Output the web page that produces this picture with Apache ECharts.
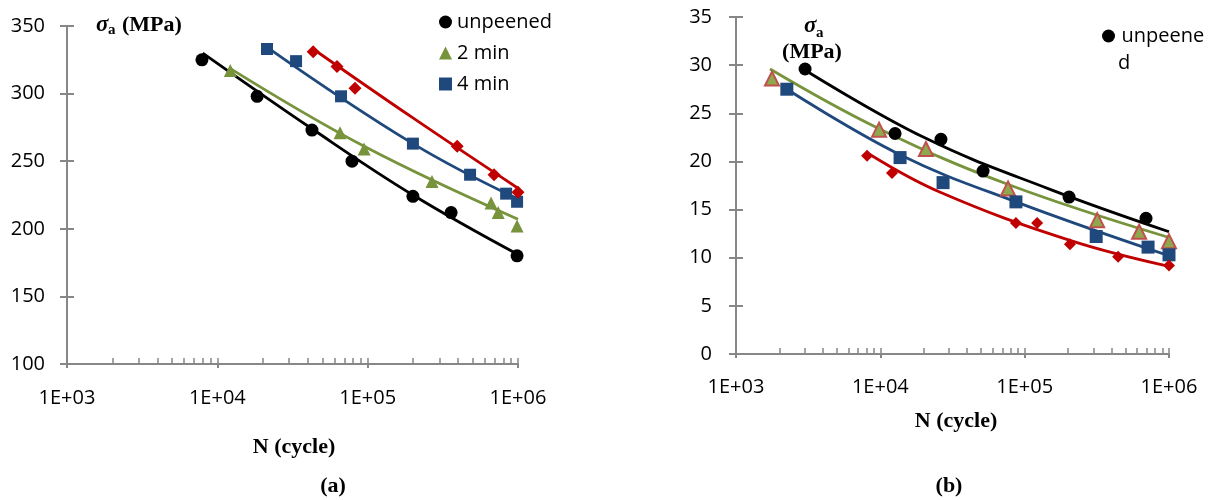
<!DOCTYPE html>
<html>
<head>
<meta charset="utf-8">
<title>S-N curves</title>
<script src="https://cdn.jsdelivr.net/npm/echarts@6/dist/echarts.min.js"></script>
<style>
  html, body { margin: 0; padding: 0; background: #fff; }
  #chart { width: 1215px; height: 500px; }
</style>
</head>
<body>
<div id="chart"></div>
<script>
// ---- Panel (a): stress amplitude (MPa) vs number of cycles ----
const aUnpeened = [[7900, 325], [18400, 298], [42600, 273], [78700, 250], [200000, 224], [359000, 212], [986000, 180]];
const a2min     = [[12200, 317], [65500, 271], [94700, 259], [268000, 235], [662000, 219], [738000, 212], [986000, 202]];
const a4min     = [[21400, 333], [33400, 324], [66500, 298], [200000, 263], [480000, 240], [834000, 226], [986000, 220]];
const a8min     = [[43400, 331], [62500, 320], [82400, 304], [394000, 261], [693000, 240], [1000000, 227]];
// power-law trend curves
const aUnpeenedFit = [[8000, 330], [42600, 274], [200000, 225], [1000000, 181]];
const a2minFit     = [[12000, 319], [94700, 261], [1000000, 207]];
const a4minFit     = [[21000, 335], [200000, 263], [1000000, 222]];
const a8minFit     = [[43400, 333], [200000, 282], [1000000, 230]];

// ---- Panel (b) ----
const bUnpeened = [[3010, 29.6], [12650, 22.9], [26300, 22.3], [51500, 19.0], [203000, 16.3], [693000, 14.1]];
const b2min     = [[1775, 28.6], [9800, 23.3], [20700, 21.3], [76700, 17.2], [318000, 13.9], [621000, 12.7], [1000000, 11.7]];
const b4min     = [[2250, 27.5], [13700, 20.4], [27200, 17.8], [87000, 15.8], [313000, 12.2], [716000, 11.1], [1000000, 10.3]];
const b8min     = [[8090, 20.6], [12050, 18.8], [87000, 13.6], [122000, 13.6], [206000, 11.4], [444000, 10.1], [1000000, 9.2]];
const bUnpeenedFit = [[3000, 29.5], [20000, 22.5], [150000, 17.1], [1000000, 12.7]];
const b2minFit     = [[1720, 29.6], [9800, 23.4], [77000, 17.6], [1000000, 12.1]];
const b4minFit     = [[2200, 27.6], [13700, 20.7], [87000, 15.8], [1000000, 10.2]];
const b8minFit     = [[8300, 20.8], [26000, 16.8], [206000, 11.8], [1000000, 9.1]];

// ---- axis ticks ----
const xMajorTicks = [1e3, 1e4, 1e5, 1e6];
const xMinorTicks = [2e3, 3e3, 4e3, 5e3, 6e3, 7e3, 8e3, 9e3,
                     2e4, 3e4, 4e4, 5e4, 6e4, 7e4, 8e4, 9e4,
                     2e5, 3e5, 4e5, 5e5, 6e5, 7e5, 8e5, 9e5];
const yTicksA = { min: 100, max: 350, interval: 50 };
const yTicksB = { min: 0, max: 35, interval: 5 };

const AXIS_GREY = '#878787';
const SANS = "'Open Sans', 'Noto Sans', sans-serif";
const SERIF = "'Liberation Serif', 'DejaVu Serif', serif";
const C_BLACK = '#000000', C_GREEN = '#77933C', C_BLUE = '#1F497D', C_RED = '#C00000';

const sciLabel = v => '1E+0' + Math.round(Math.log10(v));

function xAxes(gridIndex, labelMargin) {
  const base = { gridIndex, type: 'log', logBase: 10, min: 1e3, max: 1e6, position: 'bottom', splitLine: { show: false } };
  return [
    Object.assign({}, base, {
      axisLine: { show: true, onZero: false, lineStyle: { color: AXIS_GREY, width: 2 } },
      axisTick: { show: true, inside: false, length: 4, lineStyle: { color: AXIS_GREY, width: 2 } },
      axisLabel: { show: true, margin: labelMargin, fontSize: 20, fontFamily: SANS, color: '#000', formatter: sciLabel, customValues: xMajorTicks }
    }),
    Object.assign({}, base, {
      axisLine: { show: false, onZero: false },
      axisTick: { show: true, inside: true, length: 6, lineStyle: { color: AXIS_GREY, width: 1.5 }, customValues: xMajorTicks.concat(xMinorTicks) },
      axisLabel: { show: false }
    })
  ];
}

function yAxes(gridIndex, ticks, margin) {
  const base = { gridIndex, type: 'value', min: ticks.min, max: ticks.max, interval: ticks.interval, position: 'left', splitLine: { show: false } };
  return [
    Object.assign({}, base, {
      axisLine: { show: true, onZero: false, lineStyle: { color: AXIS_GREY, width: 2 } },
      axisTick: { show: true, inside: false, length: 7, lineStyle: { color: AXIS_GREY, width: 2 } },
      axisLabel: { show: true, margin, fontSize: 20, fontFamily: SANS, color: '#000' }
    }),
    Object.assign({}, base, {
      axisLine: { show: false, onZero: false },
      axisTick: { show: true, inside: true, length: 7, lineStyle: { color: AXIS_GREY, width: 2 } },
      axisLabel: { show: false }
    })
  ];
}

function fit(name, data, color, xi, yi) {
  return { name, type: 'line', xAxisIndex: xi, yAxisIndex: yi, data, smooth: 0.4,
           showSymbol: false, symbol: 'none', lineStyle: { color, width: 2.8 }, z: 2, silent: true };
}
function pts(name, data, symbol, size, color, xi, yi, border) {
  return { name, type: 'scatter', xAxisIndex: xi, yAxisIndex: yi, data, symbol, symbolSize: size,
           itemStyle: Object.assign({ color, opacity: 1 }, border || {}), z: 3 };
}

const option = {
  animation: false,
  backgroundColor: '#fff',
  grid: [
    { left: 67, top: 26, width: 451, height: 338 },
    { left: 736, top: 17, width: 433, height: 337 }
  ],
  xAxis: xAxes(0, 24).concat(xAxes(1, 23)),
  yAxis: yAxes(0, yTicksA, 22).concat(yAxes(1, yTicksB, 24)),
  legend: [
    {
      orient: 'vertical', left: 434, top: 5, itemWidth: 13, itemHeight: 13, itemGap: 7,
      textStyle: { fontSize: 20, fontFamily: SANS, color: '#000', lineHeight: 24 },
      data: [{ name: 'unpeened', icon: 'circle' }, { name: '2 min', icon: 'triangle' }, { name: '4 min', icon: 'rect' }],
      selectedMode: false
    },
    {
      orient: 'vertical', left: 1097, top: 19, itemWidth: 16, itemHeight: 13,
      textStyle: { fontSize: 20, fontFamily: SANS, color: '#000', lineHeight: 24 },
      data: [{ name: 'unpeened', icon: 'circle' }],
      formatter: () => 'unpeene',
      selectedMode: false
    }
  ],
  graphic: [
    // panel (a) axis titles
    { type: 'text', left: 96, top: 14, style: { text: 'σ', font: 'italic bold 23px ' + SERIF, fill: '#000' } },
    { type: 'text', left: 108, top: 23, style: { text: 'a', font: 'bold 15px ' + SERIF, fill: '#000' } },
    { type: 'text', left: 122, top: 14, style: { text: '(MPa)', font: 'bold 22px ' + SERIF, fill: '#000' } },
    { type: 'text', x: 294, y: 447, style: { text: 'N (cycle)', font: 'bold 22px ' + SERIF, fill: '#000', align: 'center', verticalAlign: 'middle' } },
    { type: 'text', x: 333, y: 486, style: { text: '(a)', font: 'bold 22px ' + SERIF, fill: '#000', align: 'center', verticalAlign: 'middle' } },
    // panel (b) axis titles
    { type: 'text', left: 804, top: 15, style: { text: 'σ', font: 'italic bold 23px ' + SERIF, fill: '#000' } },
    { type: 'text', left: 816, top: 26, style: { text: 'a', font: 'bold 15px ' + SERIF, fill: '#000' } },
    { type: 'text', x: 812, y: 52, style: { text: '(MPa)', font: 'bold 22px ' + SERIF, fill: '#000', align: 'center', verticalAlign: 'middle' } },
    { type: 'text', x: 956, y: 421, style: { text: 'N (cycle)', font: 'bold 22px ' + SERIF, fill: '#000', align: 'center', verticalAlign: 'middle' } },
    { type: 'text', x: 949, y: 486, style: { text: '(b)', font: 'bold 22px ' + SERIF, fill: '#000', align: 'center', verticalAlign: 'middle' } },
    // wrapped tail of the panel (b) legend entry
    { type: 'text', left: 1118, top: 53, style: { text: 'd', font: '20px ' + SANS, fill: '#000' } }
  ],
  series: [
    fit('a unpeened fit', aUnpeenedFit, C_BLACK, 0, 0),
    fit('a 2 min fit', a2minFit, C_GREEN, 0, 0),
    fit('a 4 min fit', a4minFit, C_BLUE, 0, 0),
    fit('a 8 min fit', a8minFit, C_RED, 0, 0),
    pts('unpeened', aUnpeened, 'circle', 13, C_BLACK, 0, 0),
    pts('2 min', a2min, 'triangle', 13, C_GREEN, 0, 0),
    pts('4 min', a4min, 'rect', 12, C_BLUE, 0, 0),
    pts('8 min', a8min, 'diamond', 13, C_RED, 0, 0),

    fit('b unpeened fit', bUnpeenedFit, C_BLACK, 2, 2),
    fit('b 2 min fit', b2minFit, C_GREEN, 2, 2),
    fit('b 4 min fit', b4minFit, C_BLUE, 2, 2),
    fit('b 8 min fit', b8minFit, C_RED, 2, 2),
    pts('unpeened', bUnpeened, 'circle', 13, C_BLACK, 2, 2),
    pts('b 2 min', b2min, 'triangle', 14, '#8FA84E', 2, 2, { borderColor: '#C0504D', borderWidth: 2 }),
    pts('b 4 min', b4min, 'rect', 13, C_BLUE, 2, 2),
    pts('b 8 min', b8min, 'diamond', 12, C_RED, 2, 2)
  ]
};

const chart = echarts.init(document.getElementById('chart'), null, { renderer: 'canvas' });
chart.setOption(option);
</script>
</body>
</html>
